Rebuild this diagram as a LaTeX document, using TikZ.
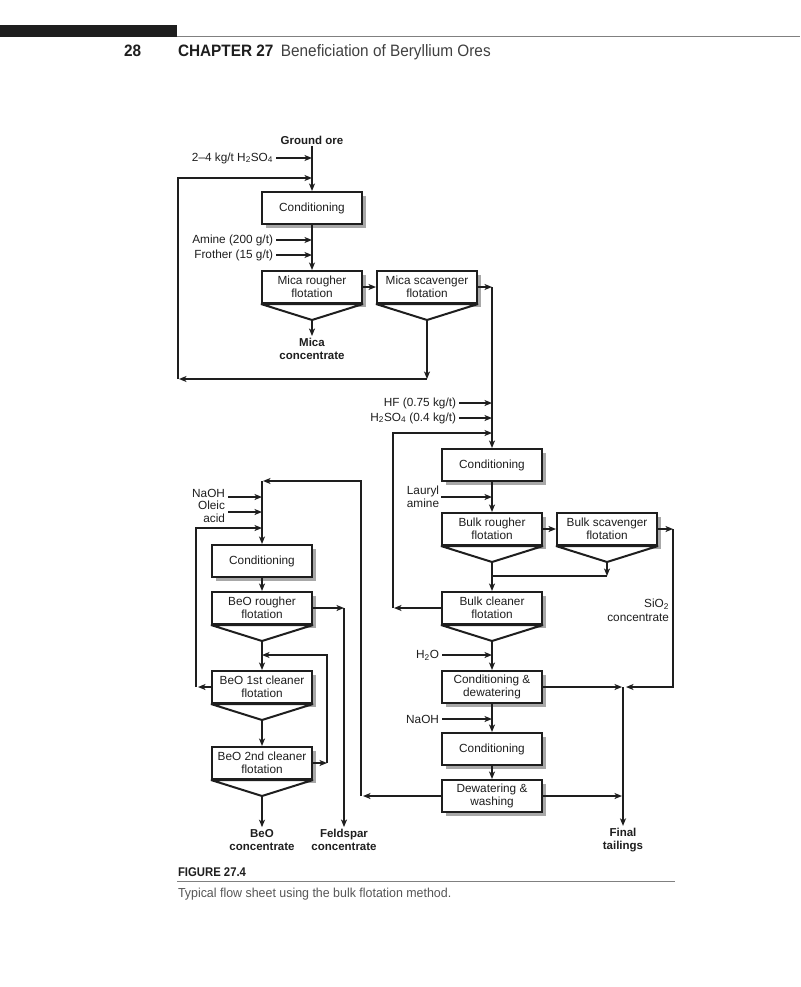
\documentclass[tikz,border=0pt]{standalone}
\usepackage{fontspec}
\setmainfont{Liberation Sans}
\newfontfamily\flowfont[Ligatures=TeX]{Liberation Sans}
\newfontfamily\headfont[FakeStretch=0.93]{Liberation Sans}
\newfontfamily\capfont[FakeStretch=0.9]{Liberation Sans}
\newfontfamily\captxtfont[FakeStretch=0.955]{Liberation Sans}
\usetikzlibrary{arrows.meta}
\usetikzlibrary{calc}
\usetikzlibrary{shadows}
\definecolor{ink}{HTML}{1E1E1E}
\definecolor{shade}{HTML}{A8A8A8}

\begin{document}
\begin{tikzpicture}[x=1pt, y=-1pt, line width=2pt, draw=ink,
    font=\flowfont\fontsize{11.8}{13.5}\selectfont, text=ink,
    >={Stealth[length=7.5pt,width=6pt,inset=2pt]},
    stage/.style={draw, fill=white, line width=2pt, minimum width=100pt,
      minimum height=32pt, align=center, inner sep=1pt,
      general shadow={fill=shade, shadow xshift=4pt, shadow yshift=-4pt}},
    feed/.style={anchor=east, inner sep=2pt, align=right},
    product/.style={font=\flowfont\bfseries\fontsize{11.5}{13.5}\selectfont,
      align=center, inner sep=1pt}]
  \useasboundingbox (0,0) rectangle (800,987);

  % Page header
  \fill[ink] (0,25) rectangle (177,37);
  \draw[gray, line width=1pt] (177,37) -- (800,37);
  \node[anchor=base west, inner sep=0, font=\headfont\bfseries\fontsize{16.5}{18}\selectfont]
    (page) at (123,57) {28};
  \node[anchor=base west, inner sep=0, font=\headfont\fontsize{16.5}{18}\selectfont]
    (chapter) at (177,57) {\textbf{CHAPTER 27}\hspace{0.45em}\color{ink!85}Beneficiation of Beryllium Ores};

  % Mica circuit
  \node[product] (ore) at (312,140) {Ground ore};
  \node[stage] (cond1) at (312,208) {Conditioning};
  \node[stage] (mr) at (312,287) {Mica rougher\\flotation};
  \node[stage] (ms) at (427,287) {Mica scavenger\\flotation};

  % Bulk circuit
  \node[stage] (cond2) at (492,465) {Conditioning};
  \node[stage] (br) at (492,529) {Bulk rougher\\flotation};
  \node[stage] (bs) at (607,529) {Bulk scavenger\\flotation};
  \node[stage] (bc) at (492,608) {Bulk cleaner\\flotation};
  \node[stage] (cd) at (492,687) {Conditioning \&\\dewatering};
  \node[stage] (cond3) at (492,749) {Conditioning};
  \node[stage] (dw) at (492,796) {Dewatering \&\\washing};

  % BeO circuit
  \node[stage] (cond4) at (262,561) {Conditioning};
  \node[stage] (ber) at (262,608) {BeO rougher\\flotation};
  \node[stage] (bc1) at (262,687) {BeO 1st cleaner\\flotation};
  \node[stage] (bc2) at (262,763) {BeO 2nd cleaner\\flotation};

  % Launders under the flotation cells
  \foreach \f in {mr,ms,br,bs,bc,ber,bc1,bc2} {
    \coordinate (\f-a) at ($(\f.south)+(0,16)$);
    \filldraw[fill=white, line join=bevel]
      (\f.south west) -- (\f-a) -- (\f.south east) -- cycle;
  }

  % Products
  \node[product] (micacon) at (312,349) {Mica\\concentrate};
  \node[product] (beocon) at (262,840) {BeO\\concentrate};
  \node[product] (feldcon) at (344,840) {Feldspar\\concentrate};
  \node[product] (tails) at (623,840) {Final\\tailings};

  % Reagents
  \node[feed] (acid) at (276,158) {2–4 kg/t H\textsubscript{2}SO\textsubscript{4}};
  \node[feed] (amine) at (276,240) {Amine (200 g/t)};
  \node[feed] (frother) at (276,255) {Frother (15 g/t)};
  \node[feed] (hf) at (459,403) {HF (0.75 kg/t)};
  \node[feed] (sulf) at (459,418) {H\textsubscript{2}SO\textsubscript{4} (0.4 kg/t)};
  \node[align=center, inner sep=1pt] (lauryl) at (423,497) {Lauryl\\amine};
  \node[feed] (water) at (442,655) {H\textsubscript{2}O};
  \node[feed] (naoh2) at (442,719) {NaOH};
  \node[feed] (naoh1) at (228,493) {NaOH};
  \node[feed] (oleic) at (228,512) {Oleic\\acid};
  \node[anchor=north east, align=right, inner sep=1pt] (sio) at (671,597)
    {SiO\textsubscript{2}\\concentrate};

  % Mica circuit flows
  \draw[->] (ore.south) -- (cond1.north);
  \draw[->] (acid.east) -- (acid.east -| cond1);
  \draw[->] (amine.east) -- (amine.east -| mr);
  \draw[->] (frother.east) -- (frother.east -| mr);
  \draw[->] (cond1.south) -- (mr.north);
  \draw[->] (mr.east) -- (ms.west);
  \draw[->] (mr-a) -- (micacon.north);

  % Mica scavenger froth back to head
  \coordinate (mloop) at (427,379);
  \coordinate (mloopL) at (178,379);
  \coordinate (mloopT) at (178,178);
  \draw[->] (ms-a) -- (mloop);
  \draw[->] (mloop) -- ([xshift=1pt]mloopL);
  \draw[->] (mloopL) -- (mloopT) -- (mloopT -| cond1);

  % Mica tailings to bulk circuit
  \coordinate (mtail) at (492,287);
  \draw[->] (ms.east) -- (mtail);
  \draw[->] (mtail) -- (cond2.north);
  \draw[->] (hf.east) -- (hf.east -| cond2);
  \draw[->] (sulf.east) -- (sulf.east -| cond2);

  % Bulk cleaner tailings back to conditioning
  \coordinate (bcL) at (393,608);
  \coordinate (bcT) at (393,433);
  \draw[->] (bc.west) -- ([xshift=1pt]bcL);
  \draw[->] (bcL) -- (bcT) -- (bcT -| cond2);

  % Bulk circuit flows
  \draw[->] (lauryl.east) -- (lauryl.east -| br);
  \draw[->] (cond2.south) -- (br.north);
  \draw[->] (br.east) -- (bs.west);
  \draw[->] (br-a) -- (bc.north);
  \coordinate (bsj) at (607,576);
  \draw[->] (bs-a) -- (bsj);
  \draw (bsj) -- (bsj -| bc);
  \draw[->] (bc-a) -- (cd.north);
  \draw[->] (water.east) -- (water.east -| cd);
  \draw[->] (cd.south) -- (cond3.north);
  \draw[->] (naoh2.east) -- (naoh2.east -| cond3);
  \draw[->] (cond3.south) -- (dw.north);

  % Tailings
  \coordinate (sioR) at (673,529);
  \coordinate (tailj) at (623,687);
  \draw[->] (bs.east) -- (sioR);
  \draw[->] (sioR) -- (sioR |- cd) -- ([xshift=3pt]tailj);
  \draw[->] (cd.east) -- ([xshift=-1pt]tailj);
  \draw[->] (dw.east) -- ([xshift=-1pt]dw.east -| tailj);
  \draw[->] (tailj) -- (tails.north);

  % Filtrate to BeO circuit
  \coordinate (dwL) at (361,796);
  \coordinate (dwT) at (361,481);
  \draw[->] (dw.west) -- ([xshift=2pt]dwL);
  \draw[->] (dwL) -- (dwT) -- ([xshift=1pt]dwT -| cond4);
  \draw[->] (dwT -| cond4) -- (cond4.north);
  \coordinate (naohin) at ($(naoh1.east)+(0,4)$);
  \draw[->] (naohin) -- (naohin -| cond4);
  \draw[->] (oleic.east) -- (oleic.east -| cond4);

  % BeO circuit flows
  \coordinate (bcyL) at (196,687);
  \coordinate (bcyT) at (196,528);
  \draw[->] (bc1.west) -- ([xshift=2pt]bcyL);
  \draw[->] (bcyL) -- (bcyT) -- (bcyT -| cond4);
  \draw[->] (cond4.south) -- (ber.north);
  \coordinate (fsp) at (344,608);
  \draw[->] (ber.east) -- (fsp);
  \draw[->] (fsp) -- (feldcon.north);
  \draw[->] (ber-a) -- (bc1.north);
  \coordinate (c2R) at (327,763);
  \coordinate (c2T) at (327,655);
  \draw[->] (bc2.east) -- (c2R);
  \draw[->] (c2R) -- (c2T) -- (c2T -| ber);
  \draw[->] (bc1-a) -- (bc2.north);
  \draw[->] (bc2-a) -- (beocon.north);

  % Caption
  \node[anchor=base west, inner sep=0, font=\capfont\bfseries\fontsize{12.6}{14}\selectfont]
    (fig) at (177,876.7) {FIGURE 27.4};
  \draw[gray, line width=1pt] (177,881.5) -- (675,881.5);
  \node[anchor=base west, inner sep=0, text=ink!75,
    font=\captxtfont\fontsize{13}{15}\selectfont]
    (cap) at (177,897.7) {Typical flow sheet using the bulk flotation method.};
\end{tikzpicture}
\end{document}
